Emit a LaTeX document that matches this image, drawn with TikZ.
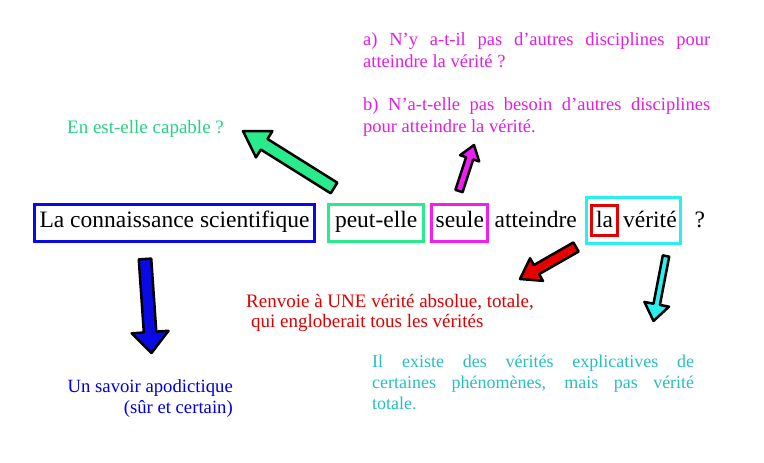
\documentclass[tikz,border=0pt]{standalone}
\usepackage{fontspec}
\setmainfont{Liberation Serif}
\usetikzlibrary{positioning, calc, fit}

\definecolor{boxblue}{RGB}{10,10,230}
\definecolor{boxgreen}{RGB}{40,235,140}
\definecolor{boxmag}{RGB}{240,30,240}
\definecolor{boxcyan}{RGB}{40,240,240}
\definecolor{boxred}{RGB}{230,0,0}
\definecolor{tgreen}{RGB}{40,210,130}
\definecolor{tmag}{RGB}{225,30,225}
\definecolor{tred}{RGB}{220,0,0}
\definecolor{tcyan}{RGB}{40,190,190}
\definecolor{tblue}{RGB}{0,0,220}

\newcommand{\fatarrow}[6]{%
  \coordinate (fa-base) at ($(#3)!#6!(#2)$);
  \draw[fatline, fill=#1] ($(#2)!#4!90:(#3)$) -- ($(fa-base)!#4!90:(#3)$) -- ($(fa-base)!#5!90:(#3)$) -- (#3)
    -- ($(fa-base)!#5!-90:(#3)$) -- ($(fa-base)!#4!-90:(#3)$) -- ($(#2)!#4!-90:(#3)$) -- cycle;}

\begin{document}
\begin{tikzpicture}[x=1pt, y=-1pt,
    mainbox/.style={draw, line width=3pt, font=\fontsize{23.5}{28}\selectfont, text height=16pt, text depth=7.5pt, inner ysep=6.5pt},
    plainword/.style={font=\fontsize{23.5}{28}\selectfont, text height=16pt, text depth=7.5pt, inner sep=0pt},
    note/.style={font=\fontsize{19}{20}\selectfont, inner sep=0pt},
    fatline/.style={draw=black, line width=2.5pt, line join=round}]
  \useasboundingbox (0,0) rectangle (764,463);

  \node [mainbox, draw=boxblue, inner xsep=5pt, anchor=base west] (sci) at (33,227) {La connaissance scientifique};
  \node [mainbox, draw=boxgreen, inner xsep=6.4pt, base right=11pt of sci] (peut) {peut-elle};
  \node [mainbox, draw=boxmag, inner xsep=4pt, base right=5pt of peut] (seule) {seule};
  \node [plainword, base right=5pt of seule] (att) {atteindre};
  \node [mainbox, draw=boxred, inner xsep=4.5pt, text height=19pt, text depth=6pt, inner ysep=2.5pt, base right=13pt of att] (la) {la};
  \node [plainword, base right=4pt of la] (ver) {vérité};
  \node [draw=boxcyan, line width=3pt, inner xsep=3.5pt, inner ysep=6.5pt, fit=(la)(ver)] (verbox) {};
  \node [plainword, base right=17.5pt of ver] (q) {?};

  \node [note, text=tgreen, anchor=base west] (capable) at (67,133) {En est-elle capable ?};
  \node [note, text=tmag, font=\fontsize{18.5}{22}\selectfont, text width=347pt, align=justify, anchor=north west] (autresA) at (363,29.6)
    {\strut a) N’y a-t-il pas d’autres disciplines pour\linebreak atteindre la vérité ?};
  \node [note, text=tmag, font=\fontsize{18.5}{22}\selectfont, text width=347pt, align=justify, anchor=north west] (autresB) at (363,94.6)
    {\strut b) N’a-t-elle pas besoin d’autres disciplines\linebreak pour atteindre la vérité.};
  \node [note, text=tred, align=left, anchor=north west] (renvoie) at (246,293)
    {\strut Renvoie à UNE vérité absolue, totale,\\\hspace*{5pt}qui engloberait tous les vérités};
  \node [note, text=tcyan, font=\fontsize{18}{21}\selectfont, text width=322pt, align=justify, anchor=north west] (explic) at (372,352.3)
    {\strut Il existe des vérités explicatives de\linebreak certaines phénomènes, mais pas vérité\linebreak totale.};
  \node [note, text=tblue, font=\fontsize{18.7}{21}\selectfont, align=right, anchor=north east] (apod) at (233,377.3)
    {\strut Un savoir apodictique\\(sûr et certain)};

  \coordinate (gtail) at (334,188);
  \coordinate (ghead) at (243,131);
  \coordinate (mtail) at (459,191);
  \coordinate (mhead) at (474,145);
  \coordinate (btail) at (145,259);
  \coordinate (bhead) at (151.5,353);
  \coordinate (rtail) at (576,247);
  \coordinate (rhead) at (520,279);
  \coordinate (ctail) at (666,256);
  \coordinate (chead) at (653.5,321);

  \fatarrow{boxgreen}{gtail}{ghead}{6.25pt}{15.5pt}{25pt}
  \fatarrow{boxmag}{mtail}{mhead}{3.75pt}{10pt}{14pt}
  \fatarrow{boxblue}{btail}{bhead}{6.25pt}{18.5pt}{21pt}
  \fatarrow{boxred}{rtail}{rhead}{5.25pt}{13pt}{19pt}
  \fatarrow{boxcyan}{ctail}{chead}{3.25pt}{12.5pt}{17pt}
\end{tikzpicture}
\end{document}
